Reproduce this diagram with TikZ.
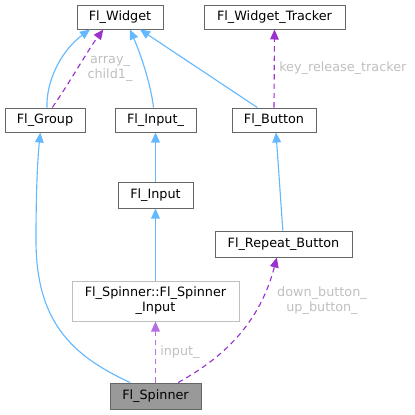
\documentclass[tikz,border=0pt]{standalone}
\usepackage{fontspec}
\setmainfont{DejaVu Sans}
\usetikzlibrary{arrows.meta}
\definecolor{edgeblue}{HTML}{63B8FF}
\definecolor{edgepurple}{HTML}{9A32CD}
\definecolor{edgelpurple}{HTML}{B570E0}
\definecolor{boxgrey}{HTML}{666666}
\definecolor{lightbox}{HTML}{BFBFBF}
\definecolor{lblgrey}{HTML}{BFBFBF}
\definecolor{fillgrey}{HTML}{999999}
\tikzset{
  cls/.style={draw=boxgrey, fill=white, line width=0.75pt, inner sep=0pt, font=\fontsize{9.6pt}{11.2pt}\selectfont, align=center},
  inh/.style={draw=edgeblue, line width=0.85pt, -{Triangle[length=7.5pt,width=6.5pt]}},
  use/.style={draw=edgepurple, line width=0.85pt, dashed, dash pattern=on 4pt off 3pt, -{Triangle[length=7.5pt,width=6.5pt]}},
  lbl/.style={text=lblgrey, font=\fontsize{9.6pt}{11.2pt}\selectfont, inner sep=0pt, align=center}
}
\begin{document}
\begin{tikzpicture}[x=0.75pt,y=-0.75pt]
\useasboundingbox (0,0) rectangle (415,415);
\node[cls, minimum width=64.5pt, minimum height=18pt] (w) at (120,17) {Fl\_Widget};
\node[cls, minimum width=105.75pt, minimum height=18pt] (wt) at (274.5,17) {Fl\_Widget\_Tracker};
\node[cls, minimum width=60pt, minimum height=18pt] (g) at (45,120) {Fl\_Group};
\node[cls, minimum width=60.75pt, minimum height=18pt] (ip) at (155.5,120) {Fl\_Input\_};
\node[cls, minimum width=63pt, minimum height=18pt] (b) at (274,120) {Fl\_Button};
\node[cls, minimum width=56.25pt, minimum height=19.5pt] (i) at (155.5,195) {Fl\_Input};
\node[cls, minimum width=102.75pt, minimum height=19.5pt] (rb) at (283.5,244) {Fl\_Repeat\_Button};
\node[cls, draw=lightbox, minimum width=125.25pt, minimum height=30pt] (si) at (155.5,301) {Fl\_Spinner::Fl\_Spinner\\\_Input};
\node[cls, fill=fillgrey, minimum width=68.25pt, minimum height=19.5pt] (s) at (155.5,396) {Fl\_Spinner};

% inheritance
\draw[inh] ([xshift=1.5pt]g.north) .. controls (46,80) and (62,50) .. ([xshift=-22.5pt]w.south);
\draw[inh] ([xshift=-1.5pt]ip.north) .. controls (151,85) and (141,55) .. ([xshift=7.5pt]w.south);
\draw[inh] ([xshift=-12.5pt]b.north) -- ([xshift=15pt]w.south);
\draw[inh] (i.north) -- (ip.south);
\draw[inh] (si.north) -- (i.south);
\draw[inh] ([xshift=-0.5pt]rb.north) -- ([xshift=1.5pt]b.south);
\draw[inh] ([xshift=-19pt]s.north) .. controls (70,355) and (36,320) .. (36,240) .. controls (36,185) and (38,155) .. ([xshift=-3.5pt]g.south);

% usage
\draw[use] ([xshift=5.5pt]g.north) .. controls (70,82) and (88,50) .. ([xshift=-12.5pt]w.south);
\node[lbl] (l1) at (110,68.5) {array\_\\child1\_};
\draw[use] (b.north) -- (wt.south);
\node[lbl, anchor=west] (l2) at (279,68) {key\_release\_tracker};
\draw[use, draw=edgelpurple] (s.north) -- (si.south);
\node[lbl, anchor=west] (l3) at (160,352) {input\_};
\draw[use] ([xshift=17pt]s.north) .. controls (215,362) and (258,330) .. ([xshift=-5pt]rb.south);
\node[lbl] (l4) at (322,300.5) {down\_button\_\\up\_button\_};
\end{tikzpicture}
\end{document}
